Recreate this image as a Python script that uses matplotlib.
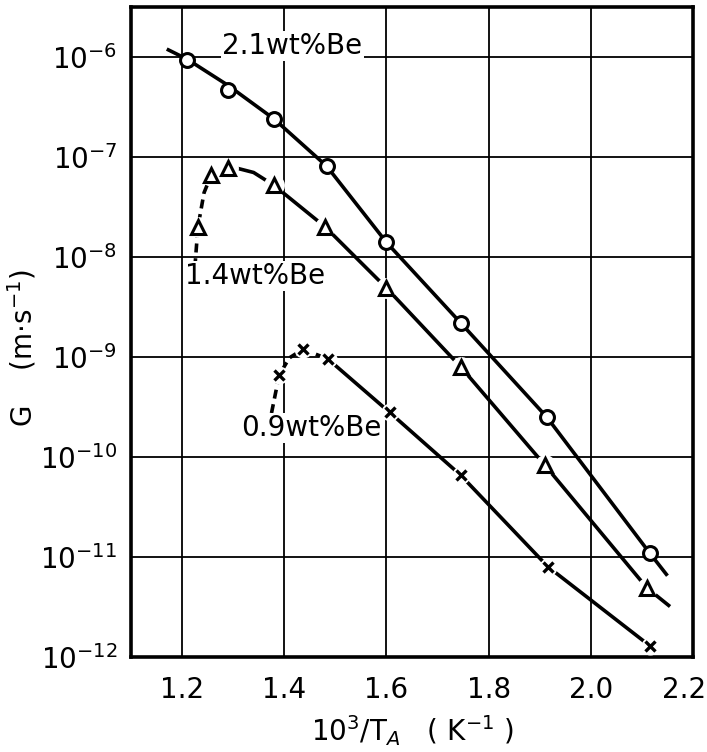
import matplotlib
matplotlib.use("Agg")
import matplotlib.pyplot as plt
import matplotlib.transforms as mtransforms
import numpy as np

# ----------------------------------------------------------------------------------------------------------------------
# Values (x = 10^3/T_A in 1/K, G in m/s)

# 2.1 wt% Be - circles
x_21 = [1.21, 1.29, 1.38, 1.483, 1.60, 1.745, 1.914, 2.115]
g_21 = [9.3e-7, 4.7e-7, 2.4e-7, 8.1e-8, 1.4e-8, 2.2e-9, 2.5e-10, 1.1e-11]
fit_x_21 = [1.17, 1.21, 1.29, 1.38, 1.483, 1.60, 1.745, 1.914, 2.115, 2.15]
fit_g_21 = [1.2e-6, 9.5e-7, 5.2e-7, 2.4e-7, 8.1e-8, 1.4e-8, 2.2e-9, 2.5e-10, 1.1e-11, 6.5e-12]

# 1.4 wt% Be - triangles
x_14 = [1.231, 1.257, 1.29, 1.38, 1.48, 1.60, 1.745, 1.91, 2.11]
g_14 = [2.0e-8, 6.6e-8, 7.8e-8, 5.2e-8, 2.0e-8, 4.9e-9, 8.0e-10, 8.3e-11, 4.9e-12]
rise_x_14 = [1.225, 1.231, 1.243, 1.257]
rise_g_14 = [7.9e-9, 2.0e-8, 4.4e-8, 6.6e-8]
fit_x_14 = [1.257, 1.275, 1.30, 1.34, 1.38, 1.48, 1.60, 1.745, 1.91, 2.11, 2.155]
fit_g_14 = [6.6e-8, 7.6e-8, 7.9e-8, 7.0e-8, 5.2e-8, 2.0e-8, 4.9e-9, 8.0e-10, 8.3e-11, 4.9e-12, 3.2e-12]

# 0.9 wt% Be - crosses
x_09 = [1.39, 1.437, 1.486, 1.606, 1.745, 1.916, 2.115]
g_09 = [6.6e-10, 1.2e-9, 9.5e-10, 2.8e-10, 6.6e-11, 8.0e-12, 1.3e-12]
rise_x_09 = [1.375, 1.39, 1.41, 1.437, 1.486]
rise_g_09 = [2.75e-10, 6.6e-10, 9.8e-10, 1.2e-9, 9.5e-10]
fit_x_09 = [1.486, 1.606, 1.745, 1.916, 2.115]
fit_g_09 = [9.5e-10, 2.8e-10, 6.6e-11, 8.0e-12, 1.3e-12]

x_ticks = [1.2, 1.4, 1.6, 1.8, 2.0, 2.2]
x_tick_labels = ["1.2", "1.4", "1.6", "1.8", "2.0", "2.2"]
y_exps = [-12, -11, -10, -9, -8, -7, -6]

# ----------------------------------------------------------------------------------------------------------------------
plt.rcParams['font.family'] = ['DejaVu Sans']
plt.rcParams['mathtext.fontset'] = 'dejavusans'

fig = plt.figure(figsize=(7.07, 7.52), dpi=100)
ax = fig.add_axes([0.1853, 0.1263, 0.7949, 0.8644])

ax.set_yscale('log')
ax.set_xlim(1.1, 2.2)
ax.set_ylim(1e-12, 10 ** -5.5)

# grid
ax.set_xticks(x_ticks)
ax.set_xticklabels(x_tick_labels)
ax.set_yticks([10.0 ** e for e in y_exps])
ax.set_yticklabels(["$10^{%d}$" % e for e in y_exps])
ax.minorticks_off()
ax.grid(True, color='black', lw=1.3)
ax.tick_params(length=0, labelsize=20, pad=10)
ax.tick_params(axis='x', pad=14)
for s in ax.spines.values():
    s.set_linewidth(2.6)

# last x label sits a little inside the frame
last = ax.get_xticklabels()[-1]
last.set_transform(last.get_transform() + mtransforms.ScaledTranslation(-0.09, 0, fig.dpi_scale_trans))

lw = 2.6
# curves
ax.plot(fit_x_21, fit_g_21, color='black', lw=lw, zorder=3, solid_capstyle='butt')
ax.plot(rise_x_14, rise_g_14, color='black', lw=lw, ls=(0, (2.5, 1.6)), zorder=3)
ax.plot(fit_x_14, fit_g_14, color='black', lw=lw, zorder=3, solid_capstyle='butt')
ax.plot(rise_x_09, rise_g_09, color='black', lw=lw, ls=(0, (2.5, 1.6)), zorder=3)
ax.plot(fit_x_09, fit_g_09, color='black', lw=lw, zorder=3, solid_capstyle='butt')

# white gaps around markers
ax.plot(x_14, g_14, ls='none', marker='o', ms=15, mfc='white', mec='none', zorder=4)
ax.plot(x_09, g_09, ls='none', marker='o', ms=13, mfc='white', mec='none', zorder=4)

# markers
ax.plot(x_21, g_21, ls='none', marker='o', ms=10, mfc='white', mec='black', mew=2.2, zorder=5)
ax.plot(x_14, g_14, ls='none', marker='^', ms=10, mfc='white', mec='black', mew=2.2, zorder=5)
ax.plot(x_09, g_09, ls='none', marker='x', ms=7.5, mec='black', mew=2.4, zorder=5)

# curve labels
box = dict(facecolor='white', edgecolor='none', pad=1)
ax.text(1.416, 10 ** -5.89, "2.1wt%Be", fontsize=20, ha='center', va='center', bbox=box, zorder=6)
ax.text(1.342, 10 ** -8.19, "1.4wt%Be", fontsize=20, ha='center', va='center', bbox=box, zorder=6)
ax.text(1.453, 10 ** -9.71, "0.9wt%Be", fontsize=20, ha='center', va='center', bbox=box, zorder=6)

ax.set_ylabel("G    (m$\\cdot$s$^{-1}$)", fontsize=20)
ax.yaxis.set_label_coords(-0.165, 0.475)
ax.set_xlabel("10$^3$/T$_A$   ( K$^{-1}$ )", fontsize=20, labelpad=6)

fig.savefig("out.png", dpi=100)
